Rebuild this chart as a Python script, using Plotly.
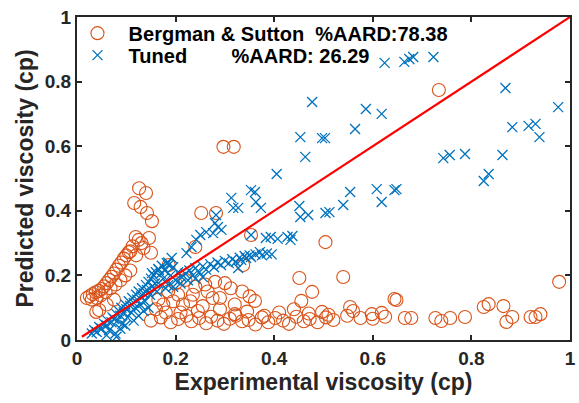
import plotly.graph_objects as go

# Bergman & Sutton (orange circles)
bs_x = [0.734, 0.297, 0.318, 0.978,
        0.126, 0.140, 0.116, 0.129, 0.142, 0.152, 0.119, 0.125, 0.131, 0.146, 0.113, 0.135, 0.150, 0.108, 0.120,
        0.020, 0.026, 0.032, 0.038, 0.044, 0.050, 0.055, 0.060, 0.065, 0.070, 0.075, 0.080, 0.085, 0.090, 0.095, 0.100, 0.105,
        0.030, 0.040, 0.048, 0.058, 0.068, 0.078, 0.088, 0.098, 0.108, 0.045, 0.039, 0.060, 0.075,
        0.200, 0.220, 0.240, 0.260, 0.280, 0.300, 0.312, 0.335, 0.350, 0.185, 0.165, 0.160, 0.180, 0.195, 0.215, 0.235, 0.255, 0.275,
        0.252, 0.282, 0.240, 0.186, 0.353, 0.504, 0.337, 0.451, 0.540, 0.477, 0.455, 0.361, 0.644, 0.554, 0.618, 0.497,
        0.150, 0.170, 0.190, 0.205, 0.222, 0.232, 0.248, 0.262, 0.272, 0.285, 0.298, 0.310, 0.322, 0.335, 0.348, 0.362, 0.375,
        0.388, 0.402, 0.418, 0.430, 0.445, 0.460, 0.472, 0.488, 0.505, 0.520, 0.548, 0.575, 0.598, 0.625, 0.210, 0.245, 0.290,
        0.320, 0.345, 0.380, 0.410, 0.440, 0.470, 0.510, 0.560, 0.600,
        0.825, 0.835, 0.865, 0.883, 0.871, 0.920, 0.930, 0.940, 0.665, 0.678, 0.727, 0.739, 0.757, 0.787, 0.648,
        0.175, 0.205, 0.230, 0.265, 0.290, 0.320]
bs_y = [0.774, 0.598, 0.598, 0.180,
        0.470, 0.455, 0.424, 0.412, 0.393, 0.368, 0.319, 0.310, 0.300, 0.316, 0.290, 0.285, 0.270, 0.275, 0.262,
        0.130, 0.136, 0.142, 0.148, 0.152, 0.158, 0.166, 0.176, 0.186, 0.196, 0.206, 0.218, 0.230, 0.240, 0.252, 0.262, 0.272,
        0.125, 0.130, 0.138, 0.148, 0.160, 0.172, 0.185, 0.200, 0.215, 0.093, 0.087, 0.110, 0.125,
        0.176, 0.186, 0.165, 0.172, 0.180, 0.176, 0.160, 0.150, 0.135, 0.150, 0.125, 0.095, 0.085, 0.120, 0.110, 0.140, 0.105, 0.130,
        0.393, 0.393, 0.288, 0.232, 0.325, 0.303, 0.232, 0.192, 0.195, 0.149, 0.121, 0.121, 0.127, 0.102, 0.084, 0.087,
        0.060, 0.070, 0.055, 0.065, 0.075, 0.058, 0.068, 0.052, 0.072, 0.060, 0.050, 0.066, 0.075, 0.058, 0.062, 0.048, 0.070,
        0.055, 0.068, 0.060, 0.050, 0.072, 0.058, 0.065, 0.055, 0.070, 0.062, 0.075, 0.068, 0.080, 0.072, 0.085, 0.090, 0.095,
        0.080, 0.088, 0.075, 0.085, 0.095, 0.082, 0.078, 0.090, 0.066,
        0.102, 0.111, 0.105, 0.071, 0.056, 0.071, 0.071, 0.080, 0.068, 0.068, 0.068, 0.059, 0.068, 0.071, 0.124,
        0.110, 0.140, 0.120, 0.150, 0.130, 0.110]

# Tuned (blue crosses)
tu_x = [0.624, 0.664, 0.674, 0.682, 0.723, 0.869, 0.976, 0.883, 0.916, 0.930, 0.938, 0.743, 0.756, 0.787, 0.863,
        0.825, 0.835, 0.648, 0.477, 0.586, 0.618, 0.564, 0.453, 0.497, 0.503, 0.463, 0.405, 0.361, 0.373, 0.451,
        0.453, 0.469, 0.504, 0.512, 0.540, 0.554, 0.608, 0.644, 0.618, 0.327, 0.353, 0.383, 0.393, 0.407, 0.427,
        0.437, 0.433, 0.371, 0.353, 0.343, 0.333, 0.327, 0.313, 0.317, 0.286, 0.293, 0.276, 0.262, 0.250, 0.242,
        0.232, 0.222, 0.282, 0.182, 0.280, 0.353, 0.363, 0.186, 0.166, 0.152, 0.192,
        0.165, 0.175, 0.185, 0.190, 0.200, 0.205, 0.212, 0.220, 0.228, 0.235, 0.240, 0.248, 0.255, 0.262, 0.270,
        0.278, 0.285, 0.292, 0.300, 0.308, 0.315, 0.322, 0.330, 0.340, 0.350, 0.362, 0.375, 0.385, 0.395,
        0.180, 0.195, 0.210, 0.225, 0.240, 0.255,
        0.030, 0.035, 0.040, 0.045, 0.050, 0.055, 0.060, 0.062, 0.065, 0.070, 0.072, 0.075, 0.078, 0.080, 0.082,
        0.085, 0.088, 0.090, 0.092, 0.095, 0.098, 0.100, 0.102, 0.105, 0.108, 0.110, 0.112, 0.115, 0.118, 0.120,
        0.122, 0.125, 0.128, 0.130, 0.132, 0.135, 0.138, 0.140, 0.142, 0.145, 0.148, 0.150, 0.152, 0.155, 0.158,
        0.160, 0.162, 0.165, 0.170, 0.172, 0.178, 0.185, 0.195, 0.088, 0.098, 0.115, 0.125, 0.135, 0.145, 0.060, 0.080]
tu_y = [0.858, 0.861, 0.870, 0.876, 0.876, 0.780, 0.721, 0.659, 0.663, 0.669, 0.628, 0.563, 0.573, 0.576, 0.573,
        0.492, 0.514, 0.467, 0.737, 0.715, 0.700, 0.653, 0.628, 0.625, 0.625, 0.567, 0.514, 0.458, 0.409, 0.415,
        0.381, 0.387, 0.393, 0.396, 0.418, 0.458, 0.467, 0.464, 0.427, 0.409, 0.325, 0.316, 0.319, 0.313, 0.319,
        0.322, 0.310, 0.272, 0.257, 0.254, 0.248, 0.223, 0.440, 0.409, 0.350, 0.341, 0.331, 0.334, 0.325, 0.310,
        0.288, 0.269, 0.387, 0.238, 0.362, 0.464, 0.427, 0.232, 0.217, 0.207, 0.254,
        0.176, 0.190, 0.170, 0.200, 0.185, 0.210, 0.195, 0.205, 0.215, 0.200, 0.222, 0.210, 0.228, 0.218, 0.235,
        0.225, 0.240, 0.232, 0.245, 0.238, 0.250, 0.242, 0.255, 0.260, 0.262, 0.265, 0.262, 0.268, 0.265,
        0.160, 0.165, 0.175, 0.185, 0.190, 0.195,
        0.020, 0.030, 0.025, 0.040, 0.035, 0.050, 0.045, 0.060, 0.030, 0.055, 0.070, 0.065, 0.020, 0.080, 0.060,
        0.090, 0.075, 0.100, 0.050, 0.085, 0.110, 0.095, 0.070, 0.120, 0.105, 0.085, 0.130, 0.115, 0.100, 0.140,
        0.125, 0.150, 0.110, 0.135, 0.160, 0.145, 0.120, 0.170, 0.155, 0.180, 0.140, 0.190, 0.165, 0.200, 0.175,
        0.210, 0.150, 0.220, 0.205, 0.230, 0.215, 0.240, 0.225, 0.035, 0.045, 0.060, 0.075, 0.090, 0.100, 0.015, 0.010]

line_x = [0.01, 1.0]
line_y = [0.01, 1.0]

tick_vals = [0, 0.2, 0.4, 0.6, 0.8, 1]
tick_text = ["0", "0.2", "0.4", "0.6", "0.8", "1"]

NB = "\u00a0"
FONT = "Liberation Sans"
fig = go.Figure()
fig.add_trace(go.Scatter(x=bs_x, y=bs_y, mode="markers", legend="legend",
                         name=NB * 2 + "Bergman & Sutton" + NB * 2 + "%AARD:78.38",
                         marker=dict(symbol="circle-open", size=13, color="#D95319", line=dict(width=1.1))))
fig.add_trace(go.Scatter(x=tu_x, y=tu_y, mode="markers", legend="legend2",
                         name=NB * 2 + "Tuned" + NB * 8 + "%AARD: 26.29",
                         marker=dict(symbol="x-thin-open", size=10, color="#0072BD", line=dict(width=1.3, color="#0072BD"))))
fig.add_trace(go.Scatter(x=line_x, y=line_y, mode="lines", showlegend=False,
                         line=dict(color="#FF0000", width=2.2)))

axis_common = dict(range=[0, 1], tickvals=tick_vals, ticktext=tick_text, ticks="inside", ticklen=5,
                   tickwidth=2, tickcolor="#262626", showline=True, linecolor="#262626", linewidth=2,
                   mirror="allticks", showgrid=False, zeroline=False, ticklabeloverflow="allow",
                   tickfont=dict(family=FONT, size=19, color="#262626", weight="bold"))

leg_common = dict(xanchor="left", yanchor="middle", bgcolor="rgba(0,0,0,0)",
                  font=dict(family=FONT, size=20, color="black", weight="bold"), itemwidth=30)

fig.update_layout(
    width=579, height=403,
    margin=dict(l=77, r=3, t=17, b=63),
    plot_bgcolor="white", paper_bgcolor="white",
    xaxis=dict(**axis_common, title=dict(text="Experimental viscosity (cp)", standoff=3,
                                         font=dict(family=FONT, size=23, color="#262626", weight="bold"))),
    yaxis=dict(**axis_common, title=dict(text="Predicted viscosity (cp)", standoff=5,
                                         font=dict(family=FONT, size=23, color="#262626", weight="bold"))),
    legend=dict(x=0.001, y=0.950, **leg_common),
    legend2=dict(x=0.001, y=0.882, **leg_common),
    showlegend=True,
)

fig.write_html("out.html")
